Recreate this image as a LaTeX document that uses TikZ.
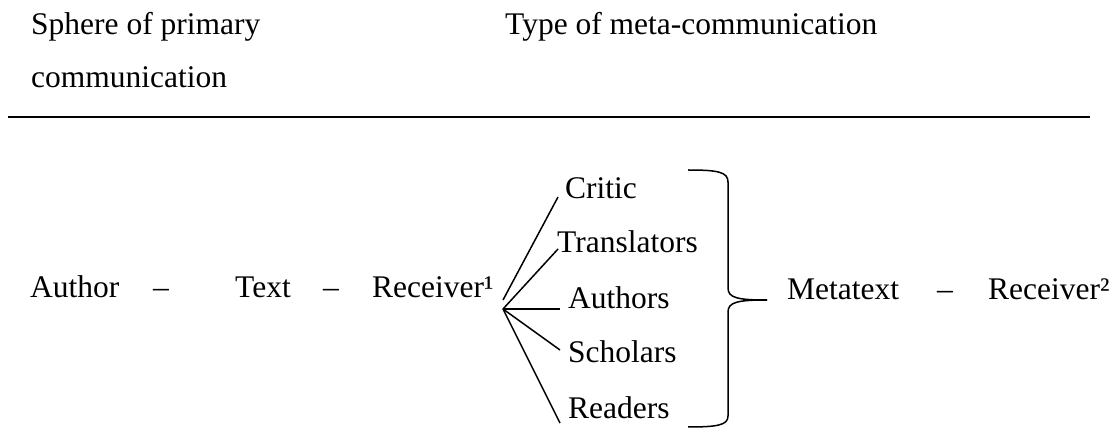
\documentclass[tikz,border=0pt]{standalone}
\usepackage{fontspec}
\setmainfont{Liberation Serif}
\usepackage{tikz}
\usetikzlibrary{positioning, calc}

\tikzset{
  word/.style={anchor=base west, inner sep=0pt, font=\fontsize{31.5}{36}\selectfont},
  fanline/.style={line width=1.5pt},
  bracepath/.style={line width=1.5pt}
}

\begin{document}
\begin{tikzpicture}[x=1pt, y=-1pt]
        \useasboundingbox (0,0) rectangle (1120,430);

        % Heading
        \node[word] (sphere) at (31,35) {Sphere of primary};
        \node[word] (sphere2) at (31,88) {communication};
        \node[word] (type) at (505,35) {Type of meta-communication};
        \coordinate (ruleL) at (8,117);
        \coordinate (ruleR) at (1090,117);
        \draw[line width=1.8pt] (ruleL) -- (ruleR);

        % Primary communication
        \node[word] (author) at (30,298) {Author};
        \node[word] (dashA) at (153,298) {–};
        \node[word] (text) at (235,298) {Text};
        \node[word] (dashB) at (323,298) {–};
        \node[word] (recv) at (372,298) {Receiver¹};

        % Receivers of the text
        \node[word] (critic) at (565,199) {Critic};
        \node[word] (transl) at (557,253) {Translators};
        \node[word] (authors) at (568,309) {Authors};
        \node[word] (scholars) at (568,363) {Scholars};
        \node[word] (readers) at (568,419) {Readers};

        % Fan
        \coordinate (fan) at (503,309);
        \coordinate (fanup) at (503,300);
        \draw[fanline] (fanup) -- ($(critic.base west)+(-7,-2)$);
        \draw[fanline] (fan) -- ($(transl.base west)+(1,-4)$);
        \draw[fanline] (fan) -- ($(authors.base west)+(-8,0)$);
        \draw[fanline] (fan) -- ($(scholars.base west)+(-8,-13)$);
        \draw[fanline] (fan) -- ($(readers.base west)+(-8,4)$);

        % Brace
        \coordinate (brTop) at (688,170);
        \coordinate (brTip) at (767,300);
        \coordinate (brBot) at (688,427);
        \draw[bracepath] (brTop) .. controls (718,170) and (728,172) .. (728,182)
          -- (728,288) .. controls (728,298) and (738,300) .. (brTip);
        \draw[bracepath] (brTip) .. controls (738,300) and (728,302) .. (728,312)
          -- (728,416) .. controls (728,425) and (718,427) .. (brBot);

        % Meta-communication
        \node[word] (meta) at (787,300) {Metatext};
        \node[word] (dashC) at (937,300) {–};
        \node[word] (recv2) at (988,300) {Receiver²};
\end{tikzpicture}
\end{document}
